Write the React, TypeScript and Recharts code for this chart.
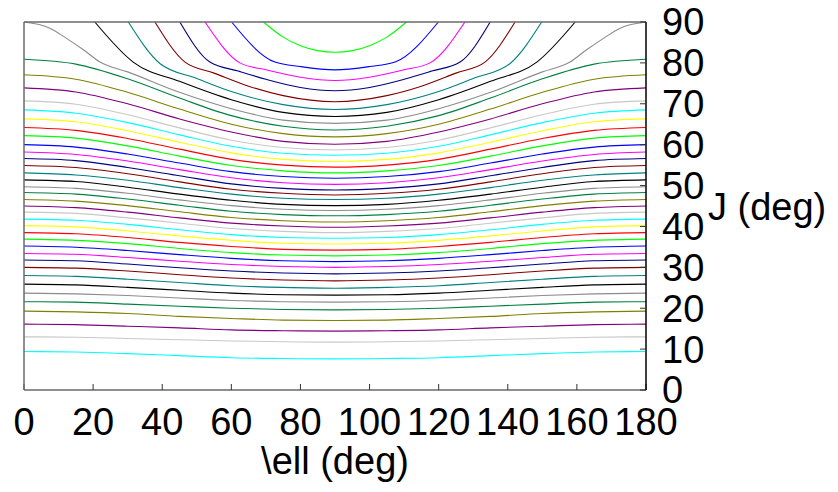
import { Line, LineChart, XAxis, YAxis } from "recharts";

// \ell runs 0..180 and the picture is mirror-symmetric around 90,
// so each contour is read on the left half and reflected.
const ellTicks = [0, 20, 40, 60, 80, 100, 120, 140, 160, 180];
const jTicks = [0, 10, 20, 30, 40, 50, 60, 70, 80, 90];

// colour cycle, top contour first
const lineColors = [
  "#00ff00",
  "#0000ff",
  "#ff00ff",
  "#000080",
  "#800000",
  "#008080",
  "#000000",
  "#8c8c8c",
  "#008040",
  "#808000",
  "#800080",
  "#c8c8c8",
  "#00ffff",
  "#ffff00",
  "#ff0000",
];

// contours that run into the J = 90 edge (kink near J = 80)
const upperEll = [
  [69.3, 75, 80, 85, 90],
  [60.1, 72.6, 80, 90],
  [52.4, 62.5, 70, 80, 90],
  [45.1, 53.8, 62, 70, 80, 90],
  [37.9, 46.6, 55, 65, 75, 90],
  [30.2, 39.4, 50, 60, 75, 90],
  [20.5, 31.6, 45, 60, 75, 90],
  [0, 7.5, 12.3, 17.2, 22, 30, 45, 60, 75, 90],
];
const upperJ = [
  [90, 86.3, 84.2, 83.0, 82.6],
  [90, 80.2, 79.1, 78.3],
  [90, 80.0, 78.3, 76.5, 75.7],
  [90, 80.2, 78.0, 76.0, 74.0, 73.2],
  [90, 80.2, 77.5, 74.3, 72.0, 70.5],
  [90, 79.8, 76.2, 73.0, 69.8, 68.6],
  [90, 80.2, 75.5, 71.0, 67.9, 66.9],
  [90, 88.5, 86.0, 83.2, 80.2, 77.8, 72.8, 68.8, 66.0, 65.2],
];

// the rest, read at these \ell values
const sampleEll = [0, 15, 30, 45, 60, 75, 90];
const lowerJ = [
  [80.9, 79.7, 76.1, 71.4, 67.1, 64.5, 63.6],
  [77.1, 76.0, 72.8, 68.7, 65.0, 62.7, 61.9],
  [73.9, 72.9, 70.0, 66.3, 63.1, 60.8, 60.1],
  [70.7, 69.9, 67.3, 64.1, 61.1, 59.3, 58.7],
  [68.5, 67.7, 65.4, 62.4, 59.6, 57.9, 57.4],
  [66.3, 65.6, 63.4, 60.6, 58.0, 56.4, 55.9],
  [64.2, 63.5, 61.5, 58.9, 56.4, 55.0, 54.5],
  [62.2, 61.6, 59.7, 57.2, 54.9, 53.6, 53.1],
  [60.0, 59.4, 57.7, 55.5, 53.4, 52.2, 51.8],
  [58.2, 57.6, 56.0, 53.9, 51.9, 50.7, 50.3],
  [56.6, 56.1, 54.4, 52.4, 50.4, 49.3, 48.9],
  [54.9, 54.4, 52.9, 50.9, 49.1, 48.1, 47.7],
  [53.1, 52.6, 51.3, 49.5, 47.9, 46.9, 46.6],
  [51.4, 51.0, 49.6, 47.9, 46.4, 45.4, 45.1],
  [49.7, 49.3, 48.1, 46.5, 45.1, 44.2, 43.9],
  [48.3, 47.9, 46.7, 45.2, 43.7, 42.9, 42.6],
  [46.6, 46.2, 45.1, 43.6, 42.2, 41.4, 41.1],
  [45.0, 44.6, 43.5, 42.1, 40.8, 40.1, 39.8],
  [43.5, 43.2, 42.1, 40.8, 39.5, 38.8, 38.5],
  [41.8, 41.5, 40.5, 39.2, 38.0, 37.3, 37.1],
  [40.2, 39.9, 38.9, 37.7, 36.6, 35.9, 35.7],
  [38.5, 38.2, 37.3, 36.1, 35.1, 34.4, 34.2],
  [36.9, 36.6, 35.8, 34.6, 33.6, 33.0, 32.8],
  [35.2, 34.9, 34.1, 33.1, 32.2, 31.6, 31.4],
  [33.4, 33.2, 32.4, 31.5, 30.7, 30.2, 30.0],
  [31.8, 31.6, 30.8, 29.9, 29.1, 28.6, 28.4],
  [30.0, 29.8, 29.1, 28.2, 27.4, 26.9, 26.7],
  [28.0, 27.8, 27.1, 26.3, 25.5, 25.1, 24.9],
  [25.9, 25.7, 25.1, 24.4, 23.7, 23.3, 23.2],
  [23.7, 23.5, 23.1, 22.5, 21.9, 21.6, 21.5],
  [21.6, 21.5, 21.0, 20.5, 20.0, 19.7, 19.6],
  [19.3, 19.1, 18.7, 18.0, 17.5, 17.1, 17.0],
  [16.1, 16.0, 15.6, 15.2, 14.7, 14.5, 14.4],
  [13.0, 12.9, 12.6, 12.3, 12.0, 11.8, 11.7],
  [9.4, 9.3, 8.9, 8.4, 7.9, 7.7, 7.6],
];

function mirrored(ell: number[], j: number[]) {
  const left = ell.map((e, i) => ({ ell: e, j: j[i] }));
  const right = left
    .slice(0, -1)
    .reverse()
    .map((p) => ({ ell: 180 - p.ell, j: p.j }));
  return [...left, ...right];
}

const series = [
  ...upperEll.map((ell, i) => mirrored(ell, upperJ[i])),
  ...lowerJ.map((j) => mirrored(sampleEll, j)),
];

const fontSize = 38;
const frame = { stroke: "#6a6a6a", strokeWidth: 1.5 };
const tickLine = { stroke: "#333333", strokeWidth: 1 };

function xTitle({ viewBox }: any) {
  return (
    <text
      x={viewBox.x + viewBox.width / 2}
      y={viewBox.y + 84}
      textAnchor="middle"
      fontSize={fontSize}
      fill="#000"
    >
      \ell (deg)
    </text>
  );
}

function yTitle({ viewBox }: any) {
  return (
    <text
      x={viewBox.x + 62}
      y={viewBox.y + viewBox.height / 2 + 14}
      textAnchor="start"
      fontSize={fontSize}
      fill="#000"
    >
      J (deg)
    </text>
  );
}

export default function App() {
  return (
    <div
      style={{
        position: "absolute",
        left: 0,
        top: 0,
        width: 838,
        height: 492,
        background: "#fff",
        fontFamily: "'Liberation Sans', Arial, sans-serif",
      }}
    >
      <LineChart width={838} height={492} margin={{ top: 0, right: 0, bottom: 0, left: 0 }}>
        <XAxis
          xAxisId="top"
          orientation="top"
          type="number"
          dataKey="ell"
          domain={[0, 180]}
          ticks={ellTicks}
          interval={0}
          height={22}
          tick={false}
          tickSize={-6}
          axisLine={frame}
          tickLine={tickLine}
        />
        <XAxis
          xAxisId="bottom"
          orientation="bottom"
          type="number"
          dataKey="ell"
          domain={[0, 180]}
          ticks={ellTicks}
          interval={0}
          height={102}
          tickSize={-6}
          tickMargin={24}
          tick={{ fill: "#000", fontSize }}
          axisLine={frame}
          tickLine={tickLine}
          label={xTitle}
        />
        <YAxis
          yAxisId="left"
          orientation="left"
          type="number"
          domain={[0, 90]}
          ticks={jTicks}
          interval={0}
          width={24}
          tick={false}
          tickSize={-6}
          axisLine={frame}
          tickLine={tickLine}
        />
        <YAxis
          yAxisId="right"
          orientation="right"
          type="number"
          domain={[0, 90]}
          ticks={jTicks}
          interval={0}
          width={192}
          tickSize={-6}
          tickMargin={22}
          tick={{ fill: "#000", fontSize }}
          axisLine={{ stroke: "#000", strokeWidth: 1.5 }}
          tickLine={tickLine}
          label={yTitle}
        />
        {series.map((data, i) => (
          <Line
            key={i}
            data={data}
            xAxisId="bottom"
            yAxisId="right"
            dataKey="j"
            type="monotone"
            stroke={lineColors[i % lineColors.length]}
            strokeWidth={1.1}
            dot={false}
            isAnimationActive={false}
          />
        ))}
      </LineChart>
    </div>
  );
}
